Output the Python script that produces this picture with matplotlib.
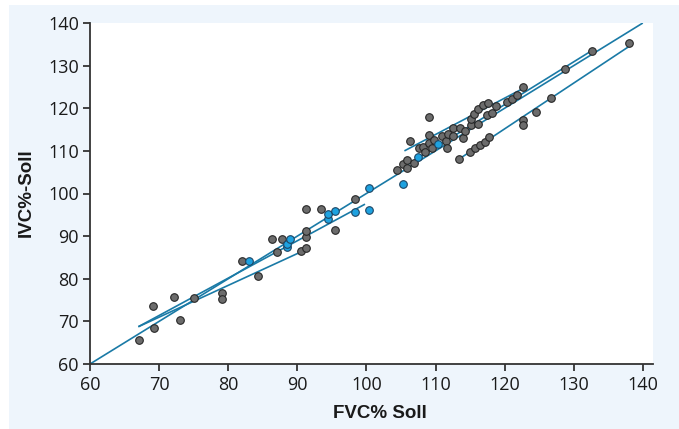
import matplotlib
matplotlib.use("Agg")
import matplotlib.pyplot as plt
from matplotlib.patches import Rectangle

# ---- data ----
gray_x = [67.1, 69.3, 69.1, 73.0, 72.2, 75.1, 79.1, 79.1, 84.3, 82.0, 87.1, 86.4, 87.8,
          90.6, 91.3, 91.3, 91.3, 91.3, 93.4, 95.4, 98.4,
          104.4, 105.3, 105.9, 105.9, 106.3, 106.9, 107.6, 108.2, 108.5, 109.1, 109.1,
          109.5, 109.1, 109.8, 111.0, 111.5, 111.6, 111.8, 112.6, 112.5, 113.5, 114.0,
          114.2, 115.1, 116.2, 115.2, 115.6, 116.2, 116.9, 117.6, 117.4, 118.2, 118.8,
          120.3, 121.0, 121.8, 122.6, 113.4, 115.0, 115.7, 116.4, 117.2, 117.7,
          122.6, 122.6, 124.5, 126.7, 128.7, 132.7, 138.0]
gray_y = [65.7, 68.5, 73.5, 70.3, 75.7, 75.6, 76.6, 75.2, 80.6, 84.2, 86.2, 89.3, 89.3,
          86.6, 87.1, 89.9, 91.2, 96.4, 96.4, 91.4, 98.6,
          105.5, 106.9, 105.9, 107.9, 112.4, 107.1, 110.6, 110.8, 109.8, 111.8, 113.7,
          110.6, 118.0, 112.6, 113.5, 112.3, 110.6, 113.9, 113.5, 115.3, 115.3, 113.0,
          114.7, 116.1, 116.2, 117.5, 118.7, 119.8, 120.7, 121.3, 118.5, 118.8, 120.5,
          121.4, 122.1, 123.0, 125.05, 108.1, 109.8, 110.6, 111.3, 112.0, 113.2,
          117.2, 116.1, 119.2, 122.4, 129.2, 133.4, 135.4]

blue_x = [83.0, 88.5, 88.5, 88.9, 94.4, 94.4, 95.4, 98.4, 100.4, 100.4,
          105.3, 107.4, 110.3]
blue_y = [84.2, 87.4, 88.2, 89.3, 94.1, 95.1, 96.0, 95.7, 96.1, 101.4,
          102.2, 108.6, 111.5]

# fitted lines: x start, x end, y start, y end
line_x0 = [60.0, 67.0, 67.0, 105.5, 106.0, 113.8]
line_x1 = [140.0, 99.8, 90.6, 122.5, 132.8, 138.1]
line_y0 = [60.0, 68.75, 68.75, 110.0, 106.8, 108.5]
line_y1 = [140.0, 97.5, 86.35, 124.5, 133.7, 134.6]

x_ticks = [60, 70, 80, 90, 100, 110, 120, 130, 140]
y_ticks = [60, 70, 80, 90, 100, 110, 120, 130, 140]
x_label = "FVC% Soll"
y_label = "IVC%-Soll"

# ---- figure ----
W, H = 679, 429
fig = plt.figure(figsize=(W / 100, H / 100), dpi=100, facecolor="white")
bg = Rectangle((9 / W, 0), 1 - 9 / W, 1 - 5 / H,
               transform=fig.transFigure, facecolor="#eef5fc",
               edgecolor="none", zorder=-10)
fig.add_artist(bg)

ax = fig.add_axes([90 / W, 1 - 364 / H, (653 - 90) / W, (364 - 23) / H])
ax.set_zorder(1)
ax.set_facecolor("white")
ax.set_xlim(60, 60 + (653 - 90) / 6.91)
ax.set_ylim(60, 140)

line_color = "#1a7aa6"
for x0, x1, y0, y1 in zip(line_x0, line_x1, line_y0, line_y1):
    ax.plot([x0, x1], [y0, y1], color=line_color, lw=1.2, zorder=2,
            solid_capstyle="butt")

ax.scatter(gray_x, gray_y, s=30, facecolor="#6c6c6c", edgecolor="#262626",
           linewidth=0.8, zorder=3)
ax.scatter(blue_x, blue_y, s=30, facecolor="#1ea2e0", edgecolor="#1d4563",
           linewidth=0.8, zorder=4)

for side in ("top", "right"):
    ax.spines[side].set_visible(False)
for side in ("left", "bottom"):
    ax.spines[side].set_color("#333333")
    ax.spines[side].set_linewidth(1.3)

tick_fam = ["Open Sans", "DejaVu Sans"]
lab_fam = ["Liberation Sans Narrow", "Liberation Sans", "DejaVu Sans"]
ax.set_xticks(x_ticks)
ax.set_yticks(y_ticks)
ax.set_xticklabels([str(t) for t in x_ticks], family=tick_fam, fontsize=13)
ax.set_yticklabels([str(t) for t in y_ticks], family=tick_fam, fontsize=13)
ax.tick_params(axis="both", direction="out", length=5, width=1.3,
               color="#333333", labelcolor="#1a1a1a")
ax.tick_params(axis="x", pad=4)
ax.tick_params(axis="y", pad=3)

fig.text(380 / W, 1 - 414 / H, x_label, family=lab_fam, fontsize=13.5,
         fontweight="bold", color="#1a1a1a", ha="center", va="center")
fig.text(26 / W, 1 - 193 / H, y_label, family=lab_fam, fontsize=13.5,
         fontweight="bold", color="#1a1a1a", ha="center", va="center",
         rotation=90)

fig.savefig("out.png", dpi=100, facecolor="white")
